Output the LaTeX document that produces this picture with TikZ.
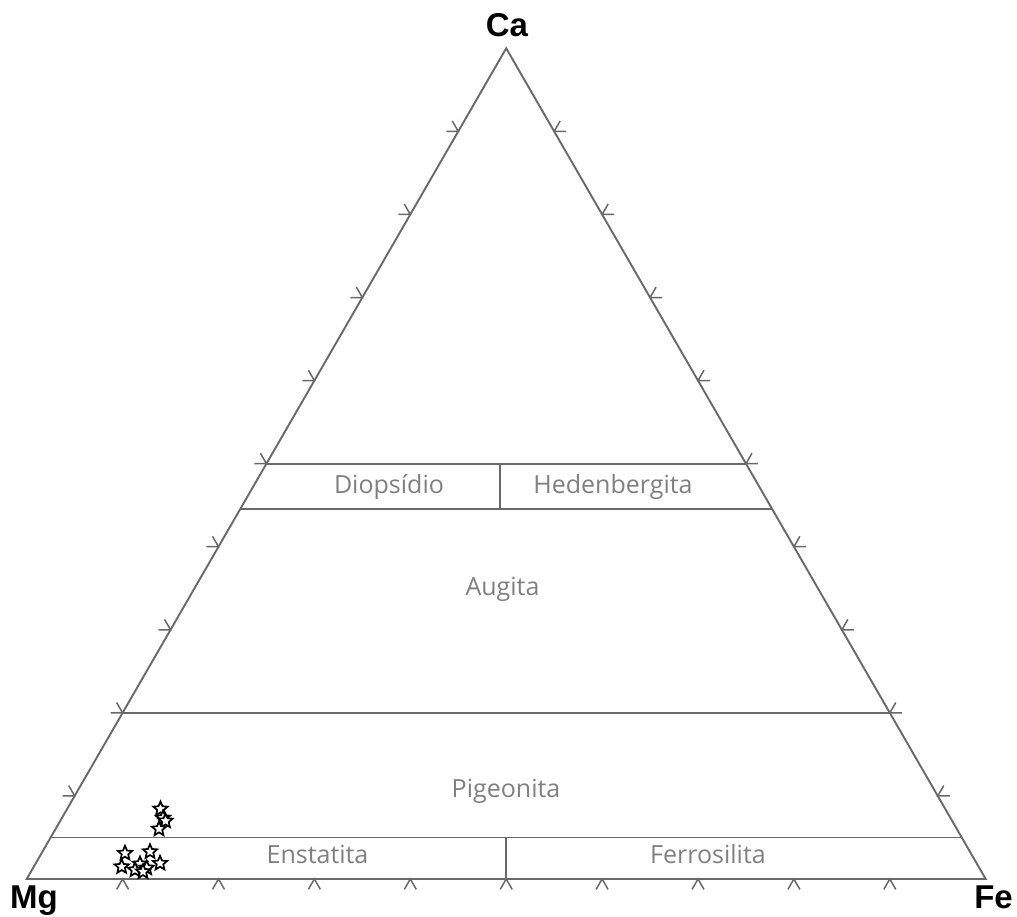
\documentclass[tikz,border=0pt]{standalone}
\usepackage{fontspec}
\setmainfont{Liberation Sans}
\newfontfamily\labelfont{Open Sans}
\usetikzlibrary{calc,shapes.geometric}
\definecolor{linegray}{RGB}{105,105,105}
\definecolor{textgray}{RGB}{128,128,128}
\begin{document}
\begin{tikzpicture}[x=1pt,y=1pt,
  edge/.style={draw=linegray, line width=1.9pt},
  tickmark/.style={draw=linegray, line width=1.5pt},
  field/.style={text=textgray, font=\labelfont\fontsize{25}{25}\selectfont, anchor=base, inner sep=0pt},
  corner/.style={font=\bfseries\fontsize{33}{33}\selectfont, inner sep=0pt},
  datum/.style={star, star points=5, star point ratio=2.2, draw=black, fill=white, line width=1.7pt, minimum size=15pt, inner sep=0pt}]
\useasboundingbox (0,0) rectangle (1017,917);
\coordinate (Mg) at (26.7,38);
\coordinate (Fe) at (985.7,38);
\coordinate (Ca) at (506.2,868.7);
% boundary lines of the fields
\coordinate (w50L) at ($(Mg)!0.5!(Ca)$);
\coordinate (w50R) at ($(Fe)!0.5!(Ca)$);
\coordinate (w45L) at ($(Mg)!0.445!(Ca)$);
\coordinate (w45R) at ($(Fe)!0.445!(Ca)$);
\coordinate (w20L) at ($(Mg)!0.2!(Ca)$);
\coordinate (w20R) at ($(Fe)!0.2!(Ca)$);
\coordinate (w05L) at ($(Mg)!0.05!(Ca)$);
\coordinate (w05R) at ($(Fe)!0.05!(Ca)$);
\coordinate (dhX) at (500,0);
\coordinate (enX) at (506.2,0);
\draw[edge] (w50L) -- (w50R);
\draw[edge] (w45L) -- (w45R);
\draw[edge] (w20L) -- (w20R);
\draw[edge] (w05L) -- (w05R);
\draw[edge] (w50L -| dhX) -- (w45L -| dhX);
\draw[edge] (w05L -| enX) -- (Mg -| enX);
% ticks
\foreach \k in {1,...,9}{
  \coordinate (L\k) at ($(Mg)!\k/10!(Ca)$);
  \coordinate (R\k) at ($(Fe)!\k/10!(Ca)$);
  \coordinate (B\k) at ($(Mg)!\k/10!(Fe)$);
  \draw[tickmark] (L\k) ++(120:12) -- (L\k) -- ++(180:12);
  \draw[tickmark] (R\k) ++(60:12) -- (R\k) -- ++(0:12);
  \draw[tickmark] (B\k) ++(240:12) -- (B\k) -- ++(300:12);
}
% triangle
\draw[edge, line join=miter] (Mg) -- (Fe) -- (Ca) -- cycle;
% field names
\node[field] (di) at (389,423.7) {Diopsídio};
\node[field] (hd) at (613,423.7) {Hedenbergita};
\node[field] (au) at (502.5,321) {Augita};
\node[field] (pg) at (506,119) {Pigeonita};
\node[field] (en) at (317.5,53.7) {Enstatita};
\node[field] (fs) at (708,53.7) {Ferrosilita};
% corner names
\node[corner, anchor=base] (lCa) at (507,880) {Ca};
\node[corner, anchor=base west] (lMg) at (10,8) {Mg};
\node[corner, anchor=base east] (lFe) at (1013,8) {Fe};
% data
\node[datum] (s1) at (160.5,108) {};
\node[datum] (s2) at (163,99) {};
\node[datum] (s3) at (165.5,96) {};
\node[datum] (s4) at (159,88) {};
\node[datum] (s5) at (125,63.7) {};
\node[datum] (s6) at (150,65.3) {};
\node[datum] (s7) at (160,53.7) {};
\node[datum] (s8) at (140,53) {};
\node[datum] (s9) at (121.7,50.3) {};
\node[datum] (s10) at (146.7,49) {};
\node[datum] (s11) at (135,47) {};
\node[datum] (s12) at (143,45.3) {};
\end{tikzpicture}
\end{document}
